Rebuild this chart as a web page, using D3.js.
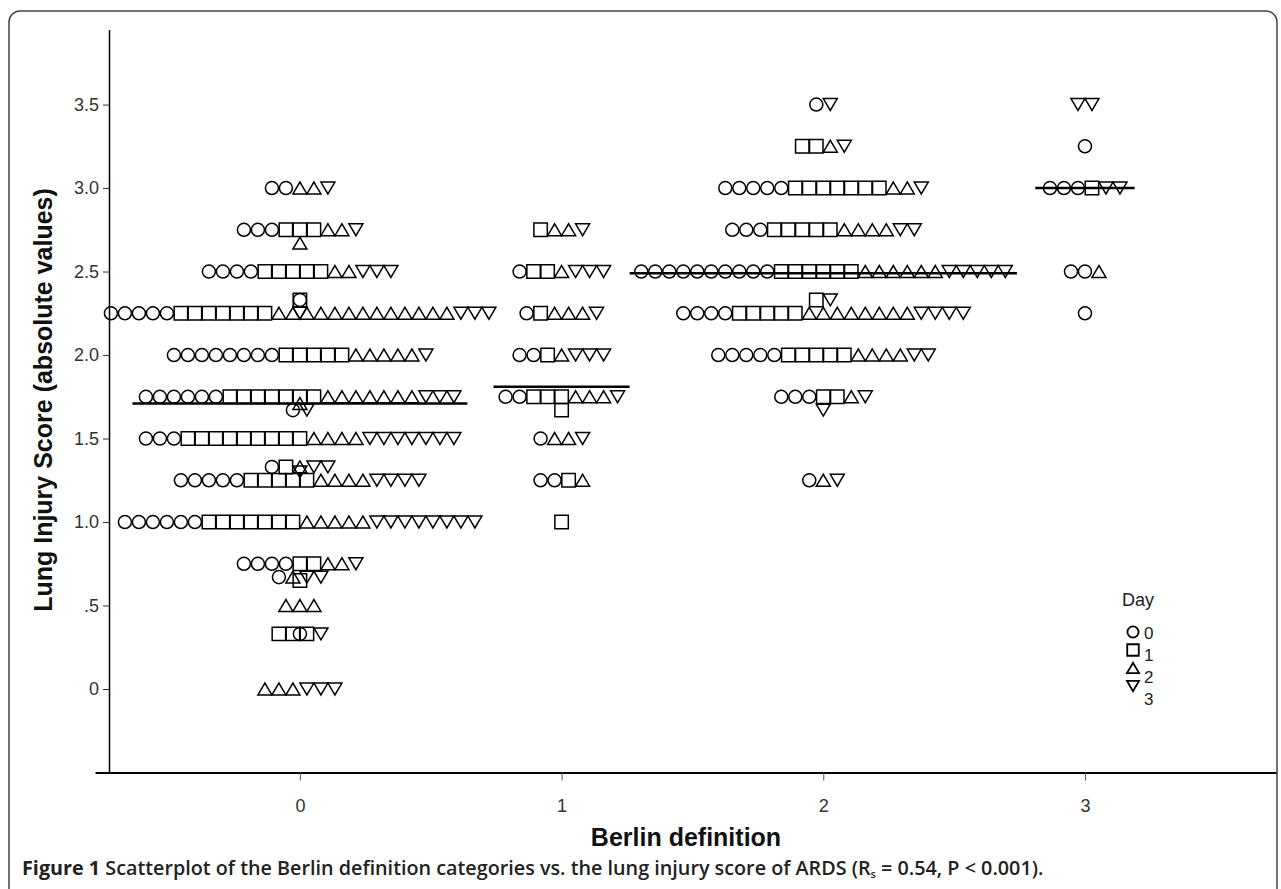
<!DOCTYPE html>
<html>
<head>
<meta charset="utf-8">
<script src="https://cdn.jsdelivr.net/npm/d3@7"></script>
<style>
  body { margin: 0; background: #fff; }
  svg { display: block; font-family: "Liberation Sans", Arial, sans-serif; }
</style>
</head>
<body>
<svg width="1281" height="889"></svg>
<script>
// Berlin definition categories and day-of-measurement series
var categories = [0, 1, 2, 3];
var days = ["0", "1", "2", "3"];
var yTicks = [0, 0.5, 1, 1.5, 2, 2.5, 3, 3.5];
var yTickLabels = ["0", ".5", "1.0", "1.5", "2.0", "2.5", "3.0", "3.5"];

// each row: [score, count day 0, day 1, day 2, day 3]
var group0Rows = [
  [3.0, 2, 0, 2, 1],
  [2.75, 3, 3, 2, 1],
  [2.67, 0, 0, 1, 0],
  [2.5, 4, 5, 2, 3],
  [2.33, 1, 0, 0, 0],
  [2.33, 0, 1, 0, 0],
  [2.25, 5, 7, 13, 3],
  [2.25, 0, 0, 0, 1],
  [2.0, 8, 5, 5, 1],
  [1.75, 6, 7, 7, 3],
  [1.71, 0, 0, 1, 0],
  [1.67, 1, 0, 0, 1],
  [1.5, 3, 9, 4, 7],
  [1.33, 1, 1, 1, 2],
  [1.3, 0, 0, 0, 1],
  [1.25, 5, 5, 4, 4],
  [1.0, 6, 7, 5, 8],
  [0.75, 4, 2, 2, 1],
  [0.67, 1, 0, 1, 2],
  [0.65, 0, 1, 0, 0],
  [0.5, 0, 0, 3, 0],
  [0.33, 0, 3, 0, 1],
  [0.33, 1, 0, 0, 0],
  [0, 0, 0, 3, 3]
];
var group1Rows = [
  [2.75, 0, 1, 2, 1],
  [2.5, 1, 2, 1, 3],
  [2.25, 1, 1, 3, 1],
  [2.0, 2, 1, 1, 3],
  [1.75, 2, 3, 3, 1],
  [1.67, 0, 1, 0, 0],
  [1.5, 1, 0, 2, 1],
  [1.25, 2, 1, 1, 0],
  [1.0, 0, 1, 0, 0]
];
var group2Rows = [
  [3.5, 1, 0, 0, 1],
  [3.25, 0, 2, 1, 1],
  [3.0, 5, 7, 2, 1],
  [2.75, 3, 5, 4, 2],
  [2.5, 10, 6, 6, 5],
  [2.33, 0, 1, 0, 1],
  [2.25, 4, 5, 8, 4],
  [2.0, 5, 5, 4, 2],
  [1.75, 3, 2, 1, 1],
  [1.67, 0, 0, 0, 1],
  [1.25, 1, 0, 1, 1]
];
var group3Rows = [
  [3.5, 0, 0, 0, 2],
  [3.25, 1, 0, 0, 0],
  [3.0, 3, 1, 0, 2],
  [2.5, 2, 0, 1, 0],
  [2.25, 1, 0, 0, 0]
];
var groupMeans = [1.71, 1.81, 2.49, 3.0];

var svg = d3.select("svg");

// outer figure frame
svg.append("rect")
    .attr("x", 9).attr("y", 11)
    .attr("width", 1268).attr("height", 900)
    .attr("rx", 11)
    .attr("fill", "none")
    .attr("stroke", "#444")
    .attr("stroke-width", 1.5);

var x = d3.scaleLinear().domain([-0.783, 3.73]).range([95, 1276]),
    y = d3.scaleLinear().domain([-0.5, 3.95]).range([772.5, 29.4]);

var pitch = 14;

function shape(day, s) {
  var p = d3.path();
  if (day === 0) {
    var r = s * 0.93;
    p.moveTo(r, 0);
    p.arc(0, 0, r, 0, 2 * Math.PI);
  } else if (day === 1) {
    var h = s * 0.96;
    p.rect(-h, -h, 2 * h, 2 * h);
  } else if (day === 2) {
    p.moveTo(-s, s * 0.85); p.lineTo(s, s * 0.85); p.lineTo(0, -s * 0.85); p.closePath();
  } else {
    p.moveTo(-s, -s * 0.85); p.lineTo(s, -s * 0.85); p.lineTo(0, s * 0.85); p.closePath();
  }
  return p.toString();
}

// y axis
var yAxis = svg.append("g")
    .attr("transform", "translate(109,0)")
    .call(d3.axisLeft(y).tickValues(yTicks).tickSize(6).tickSizeOuter(0)
      .tickFormat(function(d, i) { return yTickLabels[i]; }));
yAxis.select(".domain").attr("stroke", "#000").attr("stroke-width", 1.5);
yAxis.selectAll(".tick line").attr("stroke", "#333");
yAxis.selectAll(".tick text")
    .attr("x", -10)
    .style("font-family", "'Liberation Sans', Arial, sans-serif")
    .style("font-size", "18px")
    .attr("fill", "#333");

// x axis
var xAxis = svg.append("g")
    .attr("transform", "translate(0," + y(-0.5) + ")")
    .call(d3.axisBottom(x).tickValues(categories).tickSize(8).tickSizeOuter(0)
      .tickFormat(d3.format("d")));
xAxis.select(".domain").attr("stroke", "#000").attr("stroke-width", 2);
xAxis.selectAll(".tick line").attr("stroke", "#555");
xAxis.selectAll(".tick text")
    .attr("y", 27)
    .style("font-family", "'Liberation Sans', Arial, sans-serif")
    .style("font-size", "18px")
    .attr("fill", "#333");

// dots
var groups = [group0Rows, group1Rows, group2Rows, group3Rows];
var marks = [];
groups.forEach(function(rows, g) {
  rows.forEach(function(r) {
    var list = [];
    for (var d = 0; d < 4; d++) for (var k = 0; k < r[d + 1]; k++) list.push(d);
    list.forEach(function(d, i) {
      marks.push({
        day: d,
        px: x(categories[g]) + (i - (list.length - 1) / 2) * pitch,
        py: y(r[0])
      });
    });
  });
});

svg.append("g").selectAll("path")
  .data(marks)
  .enter().append("path")
    .attr("transform", function(d) { return "translate(" + d.px + "," + d.py + ")"; })
    .attr("d", function(d) { return shape(d.day, 7); })
    .attr("fill", "none")
    .attr("stroke", "#000")
    .attr("stroke-width", 1.5);

// group mean lines
var meanHalf = [0.64, 0.26, 0.74, 0.19];
svg.append("g").selectAll("line")
  .data(groupMeans)
  .enter().append("line")
    .attr("x1", function(d, i) { return x(categories[i] - meanHalf[i]); })
    .attr("x2", function(d, i) { return x(categories[i] + meanHalf[i]); })
    .attr("y1", function(d) { return y(d); })
    .attr("y2", function(d) { return y(d); })
    .attr("stroke", "#000")
    .attr("stroke-width", 2.5);

// legend
var legend = svg.append("g");
legend.append("text")
    .attr("x", 1122).attr("y", 606)
    .style("font-size", "18px")
    .attr("fill", "#222")
    .text("Day");
days.forEach(function(d, i) {
  legend.append("path")
      .attr("transform", "translate(1133," + (632 + i * 18) + ")")
      .attr("d", shape(i, 6))
      .attr("fill", "none")
      .attr("stroke", "#000")
      .attr("stroke-width", 1.8);
  legend.append("text")
      .attr("x", 1144).attr("y", 639 + i * 22)
      .style("font-size", "17px")
      .attr("fill", "#222")
      .text(d);
});

// axis titles
svg.append("text")
    .attr("transform", "translate(52,400) rotate(-90)")
    .attr("text-anchor", "middle")
    .style("font-size", "25px")
    .style("font-weight", "bold")
    .attr("fill", "#111")
    .text("Lung Injury Score (absolute values)");

svg.append("text")
    .attr("x", 686).attr("y", 846)
    .attr("text-anchor", "middle")
    .style("font-size", "25px")
    .style("font-weight", "bold")
    .attr("fill", "#111")
    .text("Berlin definition");

// caption
var cap = svg.append("text")
    .attr("x", 22).attr("y", 875)
    .style("font-family", "'Open Sans', 'Noto Sans', sans-serif")
    .style("font-size", "16px")
    .attr("fill", "#222");
cap.append("tspan").style("font-weight", "bold").text("Figure 1 ");
cap.append("tspan").style("font-weight", "600")
    .text("Scatterplot of the Berlin definition categories vs. the lung injury score of ARDS (R");
cap.append("tspan").style("font-weight", "600").style("font-size", "11px").attr("dy", 3).text("s");
cap.append("tspan").style("font-weight", "600").attr("dy", -3).text(" = 0.54, P < 0.001).");
var capLen = cap.node().getComputedTextLength();
cap.style("font-size", (16 * 1023 / capLen) + "px");
</script>
</body>
</html>
